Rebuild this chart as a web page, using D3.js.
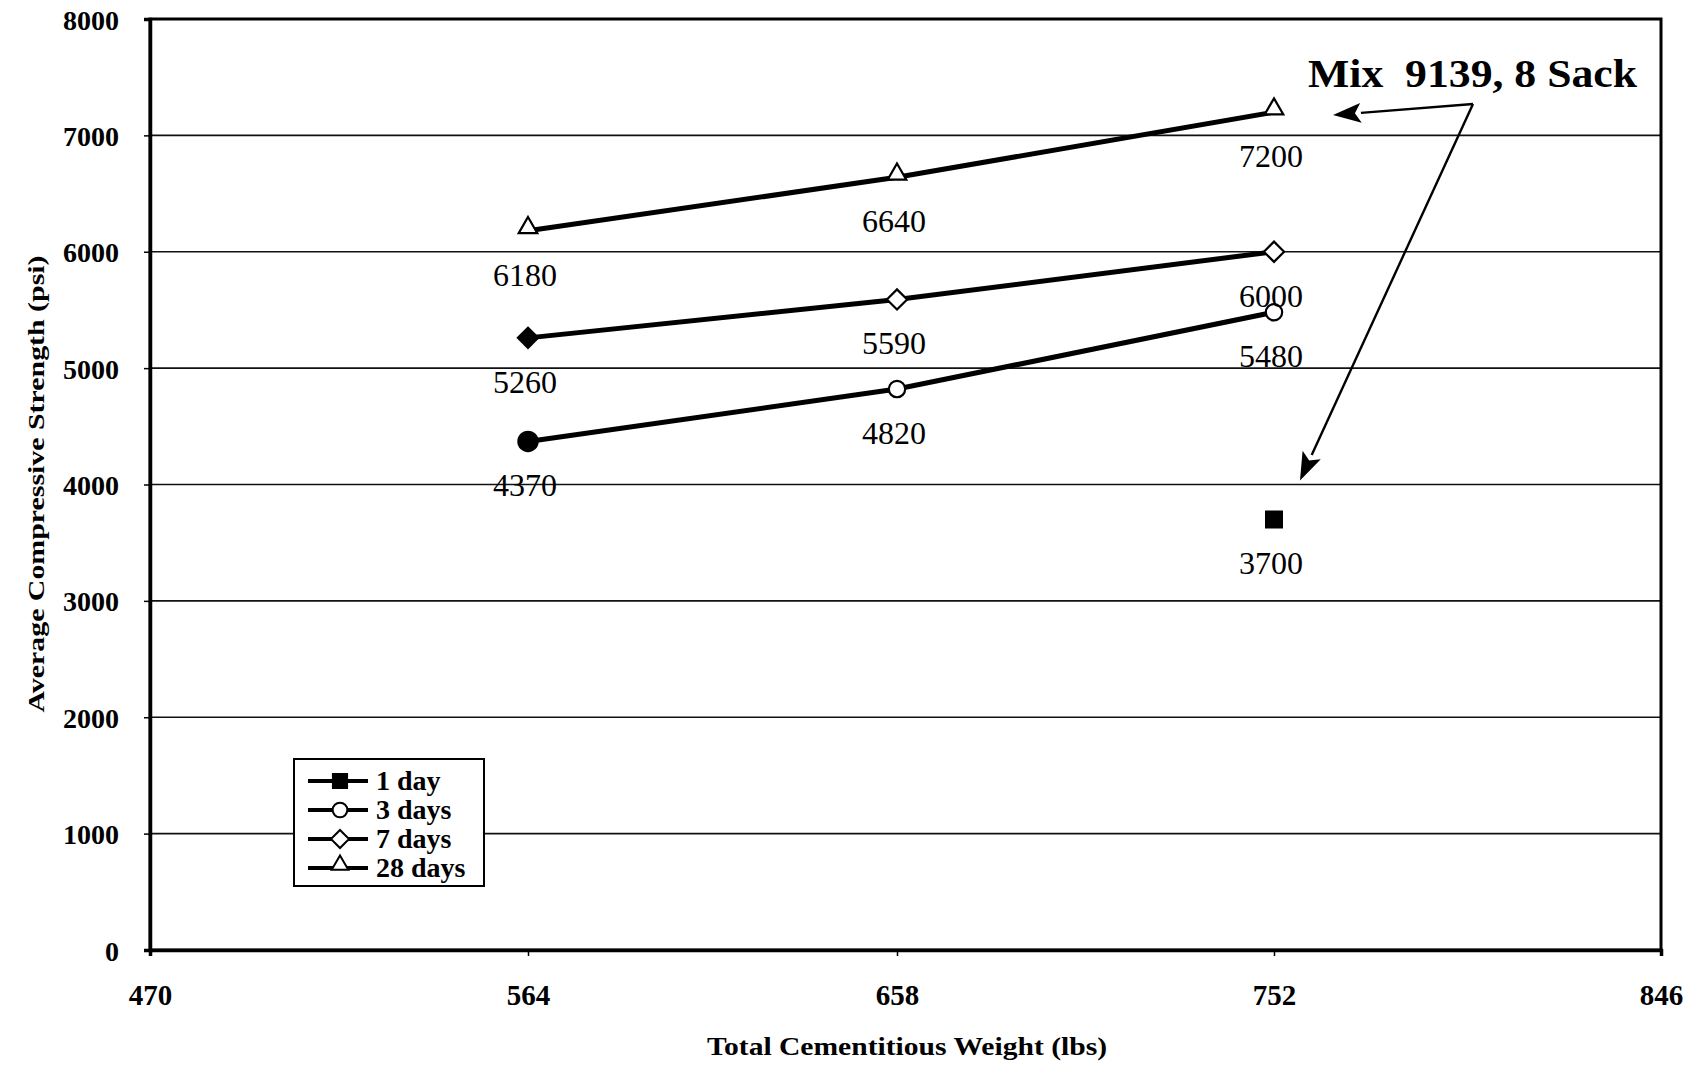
<!DOCTYPE html>
<html>
<head>
<meta charset="utf-8">
<script src="https://cdn.jsdelivr.net/npm/d3@7"></script>
<style>
  html, body { margin: 0; padding: 0; background: #fff; }
  svg { display: block; }
  text { font-family: "Liberation Serif", "Times New Roman", serif; fill: #000; }
</style>
</head>
<body>
<svg id="chart" width="1705" height="1065"></svg>
<script>
// Cementitious weight (lbs) on x, compressive strength (psi) on y
const xTicks = [470, 564, 658, 752, 846];
const yTicks = [0, 1000, 2000, 3000, 4000, 5000, 6000, 7000, 8000];

const weights = [564, 658, 752];
const seriesNames = ["1 day", "3 days", "7 days", "28 days"];
const oneDay = [null, null, 3700];
const threeDays = [4370, 4820, 5480];
const sevenDays = [5260, 5590, 6000];
const twentyEightDays = [6180, 6640, 7200];

// points drawn with a solid marker instead of an open one
const solidPoints = [{ series: "3 days", weight: 564 }, { series: "7 days", weight: 564 }];

const annotationText = "Mix  9139, 8 Sack";
const xTitle = "Total Cementitious Weight (lbs)";
const yTitle = "Average Compressive Strength (psi)";

const series = [
  { name: seriesNames[0], values: oneDay, symbol: d3.symbolSquare, size: 250 },
  { name: seriesNames[1], values: threeDays, symbol: d3.symbolCircle, size: 210 },
  { name: seriesNames[2], values: sevenDays, symbol: d3.symbolDiamond2, size: 260 },
  { name: seriesNames[3], values: twentyEightDays, symbol: d3.symbolTriangle, size: 150 }
];

const svg = d3.select("#chart");
const plot = { left: 150, right: 1661, top: 19, bottom: 950 };

// category-style axis: each tick gets its own slot along the printed frame
const x = d3.scaleLinear().domain(xTicks).range([plot.left, 528, 897, 1274, plot.right]);
const y = d3.scaleLinear().domain([0, 8000]).range([plot.bottom, plot.top]);

// horizontal gridlines
svg.append("g")
  .selectAll("line")
  .data(yTicks.filter(v => v > 0 && v < 8000))
  .join("line")
  .attr("x1", plot.left).attr("x2", plot.right)
  .attr("y1", d => y(d)).attr("y2", d => y(d))
  .attr("stroke", "#111").attr("stroke-width", 1.6);

// frame
svg.append("rect")
  .attr("x", plot.left).attr("y", plot.top)
  .attr("width", plot.right - plot.left).attr("height", plot.bottom - plot.top)
  .attr("fill", "none").attr("stroke", "#000").attr("stroke-width", 3);

// y axis
const yAxis = svg.append("g")
  .attr("transform", `translate(${plot.left},0)`)
  .call(d3.axisLeft(y).tickValues(yTicks).tickSize(6).tickPadding(25).tickFormat(d3.format("d")));
yAxis.select(".domain").attr("stroke-width", 3.5);
yAxis.selectAll(".tick line").attr("stroke-width", 1.5);
yAxis.selectAll("text")
  .attr("font-family", "Liberation Serif, serif")
  .attr("font-weight", "bold").attr("font-size", 28).attr("dy", "0.36em");

// x axis
const xAxis = svg.append("g")
  .attr("transform", `translate(0,${plot.bottom})`)
  .call(d3.axisBottom(x).tickValues(xTicks).tickSize(6).tickPadding(28).tickFormat(d3.format("d")));
xAxis.select(".domain").attr("stroke-width", 3.5);
xAxis.selectAll(".tick line").attr("stroke-width", 1.5);
xAxis.selectAll("text")
  .attr("font-family", "Liberation Serif, serif")
  .attr("font-weight", "bold").attr("font-size", 29);

// axis titles
svg.append("text")
  .attr("x", 907).attr("y", 1055)
  .attr("text-anchor", "middle")
  .attr("font-weight", "bold").attr("font-size", 25)
  .attr("textLength", 400).attr("lengthAdjust", "spacingAndGlyphs")
  .text(xTitle);

svg.append("text")
  .attr("transform", "translate(44,484) rotate(-90)")
  .attr("text-anchor", "middle")
  .attr("font-weight", "bold").attr("font-size", 24)
  .attr("textLength", 457).attr("lengthAdjust", "spacingAndGlyphs")
  .text(yTitle);

// series lines
const line = d3.line()
  .defined(d => d.v != null)
  .x(d => x(d.w)).y(d => y(d.v));

const points = s => weights.map((w, i) => ({ w, v: s.values[i], s }));

svg.append("g")
  .selectAll("path")
  .data(series)
  .join("path")
  .attr("d", s => line(points(s)))
  .attr("fill", "none").attr("stroke", "#000").attr("stroke-width", 5);

const isSolid = d => d.s.name === "1 day" ||
  solidPoints.some(p => p.series === d.s.name && p.weight === d.w);

// markers
svg.append("g")
  .selectAll("path")
  .data(series.flatMap(s => points(s).filter(d => d.v != null)))
  .join("path")
  .attr("transform", d => `translate(${x(d.w)},${y(d.v) - (d.s.symbol === d3.symbolTriangle ? 3 : 0)})`)
  .attr("d", d => d3.symbol(d.s.symbol, isSolid(d) && d.s.symbol === d3.symbolCircle ? 290 : d.s.size)())
  .attr("fill", d => isSolid(d) ? "#000" : "#fff")
  .attr("stroke", "#000").attr("stroke-width", 2.2);

// value labels beneath each point
svg.append("g")
  .selectAll("text")
  .data(series.flatMap(s => points(s).filter(d => d.v != null)))
  .join("text")
  .attr("x", d => x(d.w) - 3)
  .attr("y", d => y(d.v) + 55)
  .attr("text-anchor", "middle")
  .attr("font-size", 32)
  .text(d => d.v);

// annotation with two arrows
const annX = 1308, annY = 87;
svg.append("text")
  .attr("x", annX).attr("y", annY)
  .attr("font-weight", "bold").attr("font-size", 40)
  .attr("textLength", 329).attr("lengthAdjust", "spacingAndGlyphs")
  .style("white-space", "pre")
  .text(annotationText);

const vertex = [1473, 104];
const tips = [
  [x(752) + 59, y(7200) + 3],
  [x(752) + 26, y(3700) - 39]
];
const arrows = svg.append("g");
tips.forEach(t => {
  const dx = t[0] - vertex[0], dy = t[1] - vertex[1];
  const len = Math.hypot(dx, dy);
  const ux = dx / len, uy = dy / len;
  const headLen = 28, headW = 10;
  const bx = t[0] - ux * headLen, by = t[1] - uy * headLen;
  arrows.append("line")
    .attr("x1", vertex[0]).attr("y1", vertex[1])
    .attr("x2", bx).attr("y2", by)
    .attr("stroke", "#000").attr("stroke-width", 2.4);
  arrows.append("path")
    .attr("d", `M${t[0]},${t[1]}L${bx - uy * headW},${by + ux * headW}L${bx + ux * 6},${by + uy * 6}L${bx + uy * headW},${by - ux * headW}Z`)
    .attr("fill", "#000");
});

// legend
const lg = svg.append("g").attr("transform", "translate(294,759)");
lg.append("rect")
  .attr("width", 190).attr("height", 127)
  .attr("fill", "#fff").attr("stroke", "#000").attr("stroke-width", 2);
const rows = lg.selectAll("g.row")
  .data(series)
  .join("g")
  .attr("class", "row")
  .attr("transform", (d, i) => `translate(0,${22 + i * 29})`);
rows.append("line")
  .attr("x1", 14).attr("x2", 74)
  .attr("stroke", "#000").attr("stroke-width", 4);
rows.append("path")
  .attr("transform", d => `translate(46,${d.symbol === d3.symbolTriangle ? -3 : 0})`)
  .attr("d", d => d3.symbol(d.symbol, d.size * 0.8)())
  .attr("fill", d => d.name === "1 day" ? "#000" : "#fff")
  .attr("stroke", "#000").attr("stroke-width", 2);
rows.append("text")
  .attr("x", 82).attr("y", 9)
  .attr("font-weight", "bold").attr("font-size", 28)
  .text(d => d.name);
</script>
</body>
</html>
